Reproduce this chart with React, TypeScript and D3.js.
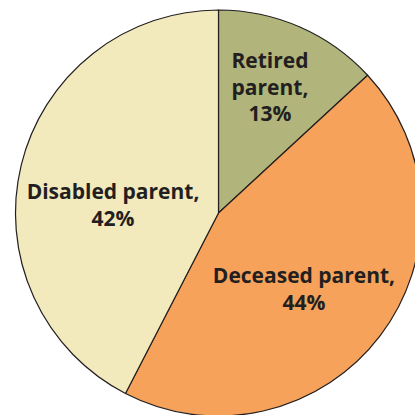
import React from "react";
import * as d3 from "d3";

const categories = ["Retired parent", "Deceased parent", "Disabled parent"];
const values = [13, 44, 42];
const labelLines = [
  ["Retired", "parent,", "13%"],
  ["Deceased parent,", "44%"],
  ["Disabled parent,", "42%"],
];
const colors = ["#b2b57b", "#f7a25b", "#f2eabd"];
const labelPos = [
  [270, 68],
  [304, 283],
  [113, 199],
];

export default function App() {
  const W = 415, H = 415;
  const cx = 218.5, cy = 213, r = 203;
  const pie = d3.pie<number>().sort(null).value((d) => d);
  const arc = d3.arc<d3.PieArcDatum<number>>().innerRadius(0).outerRadius(r);
  const arcs = pie(values);
  return (
    <svg width={W} height={H} style={{ position: "absolute", left: 0, top: 0 }}>
      <g transform={`translate(${cx},${cy})`}>
        {arcs.map((a, i) => (
          <path key={categories[i]} d={arc(a) || ""} fill={colors[i]} stroke="#231f20" strokeWidth={1.2} strokeLinejoin="round" />
        ))}
      </g>
      {labelLines.map((lines, i) => (
        <text key={i} fontFamily="'Open Sans', sans-serif" fontWeight={700} fontSize={21} fill="#231f20" textAnchor="middle">
          {lines.map((l, j) => (
            <tspan key={j} x={labelPos[i][0]} y={labelPos[i][1] + j * 26.5}>{l}</tspan>
          ))}
        </text>
      ))}
    </svg>
  );
}
